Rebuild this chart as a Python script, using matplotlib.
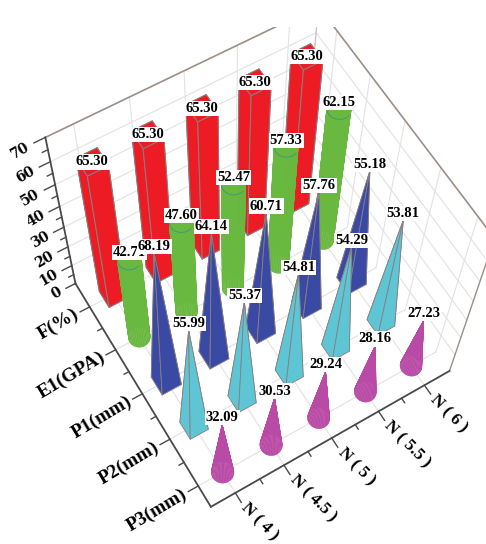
import numpy as np
import matplotlib
matplotlib.use("Agg")
import matplotlib.pyplot as plt
from mpl_toolkits.mplot3d import proj3d
from mpl_toolkits.mplot3d.art3d import Poly3DCollection

N_LABELS = ["N ( 4 )", "N ( 4.5 )", "N ( 5 )", "N ( 5.5 )", "N ( 6 )"]
ROW_LABELS = ["P3(mm)", "P2(mm)", "P1(mm)", "E1(GPA)", "F(%)"]
Z_TICKS = [0, 10, 20, 30, 40, 50, 60, 70]

F = [65.30, 65.30, 65.30, 65.30, 65.30]
E1 = [42.71, 47.60, 52.47, 57.33, 62.15]
P1 = [68.19, 64.14, 60.71, 57.76, 55.18]
P2 = [55.99, 55.37, 54.81, 54.29, 53.81]
P3 = [32.09, 30.53, 29.24, 28.16, 27.23]

XMIN, XMAX = 0.504, 5.554
YMIN, YMAX = 0.563, 5.56
ZMAX = 70

RED = "#ed1c24"
GREEN = "#69b83f"
BLUE = "#3a4aa4"
CYAN = "#5ec5d5"
MAGENTA = "#b94aa6"
EDGE = "#8a7f7f"
GRID = "#e2e2e2"
DARK = "#4a4a4a"
FRAME = "#9b8f88"
SERIF = "Liberation Serif"

fig = plt.figure(figsize=(4.86, 5.44), dpi=100)
ax = fig.add_axes([13.632 / 486, 31.141 / 544, 1, 486 / 544], projection="3d",
                  computed_zorder=False)
ax.set_xlim(XMIN, XMAX)
ax.set_ylim(YMIN, YMAX)
ax.set_zlim(0, ZMAX)
ax.autoscale(False)
ax.view_init(elev=62.688, azim=-123.49, roll=-2.685)
ax.set_box_aspect((1, 1, 1.015), zoom=1.034)
ax.set_proj_type("persp", focal_length=0.56)
ax.set_axis_off()


def seg(a, b, color, lw, z=1):
    ax.plot([a[0], b[0]], [a[1], b[1]], [a[2], b[2]], color=color, lw=lw, zorder=z)


def put_text(x, y, z, s, **kw):
    # Text3D overwrites rotation, so project and use plain text
    u, v, _ = proj3d.proj_transform(x, y, z, ax.get_proj())
    return ax.text2D(u, v, s, transform=ax.transData, fontweight="bold",
                     rotation_mode="anchor", **kw)


# grid on floor and the two back walls
for x in range(1, 6):
    seg((x, YMIN, 0), (x, YMAX, 0), GRID, 0.8)
    seg((x, YMAX, 0), (x, YMAX, ZMAX), GRID, 0.8)
for y in range(1, 6):
    seg((XMIN, y, 0), (XMAX, y, 0), GRID, 0.8)
    seg((XMAX, y, 0), (XMAX, y, ZMAX), GRID, 0.8)
for z in Z_TICKS[1:-1]:
    seg((XMIN, YMAX, z), (XMAX, YMAX, z), GRID, 0.8)
    seg((XMAX, YMIN, z), (XMAX, YMAX, z), GRID, 0.8)

# frame
seg((XMIN, YMAX, ZMAX), (XMAX, YMAX, ZMAX), FRAME, 1.2, 2)
seg((XMAX, YMAX, ZMAX), (XMAX, YMIN, ZMAX), FRAME, 1.2, 2)
seg((XMAX, YMAX, 0), (XMAX, YMAX, ZMAX), "#c8c4c0", 1.0, 2)
seg((XMAX, YMIN, 0), (XMAX, YMIN, ZMAX), FRAME, 1.0, 2)
seg((XMIN, YMAX, 0), (XMIN, YMAX, ZMAX), DARK, 1.3, 2)
seg((XMIN, YMIN, 0), (XMAX, YMIN, 0), DARK, 1.3, 2)
seg((XMIN, YMIN, 0), (XMIN, YMAX, 0), DARK, 1.3, 2)

# ticks
for z in range(0, ZMAX + 1, 5):
    seg((XMIN, YMAX, z), (XMIN - (0.2 if z % 10 == 0 else 0.1), YMAX, z), DARK, 1.0, 2)
for i in range(9):
    v = 1 + i / 2
    tick = 0.2 if i % 2 == 0 else 0.1
    seg((v, YMIN, 0), (v, YMIN - tick, 0), DARK, 1.0, 2)
    seg((XMIN, v, 0), (XMIN - tick, v, 0), DARK, 1.0, 2)

# axis text
for z in Z_TICKS:
    put_text(XMIN - 0.3, YMAX, z, str(z), fontsize=10, family="DejaVu Serif",
             rotation=30, ha="right", va="center", zorder=3)
for y, label in zip(range(1, 6), ROW_LABELS):
    put_text(XMIN - 0.25, y, 0, label, fontsize=14, family=SERIF,
             rotation=31, ha="right", va="center", zorder=3)
for x, label in zip(range(1, 6), N_LABELS):
    put_text(x, YMIN - 0.27, 0, label, fontsize=12.5, family=SERIF,
             rotation=-45, ha="left", va="center", zorder=3)


def draw_bar(x, y, h, z):
    w = 0.38
    c = ax.bar3d(x - w / 2, y - w / 2, 0, w, w, h, color=RED, shade=False,
                 edgecolor=EDGE, linewidth=0.7)
    c.set_zorder(z)


def draw_cylinder(x, y, h, z):
    r = 0.2
    t = np.linspace(0, 2 * np.pi, 41)
    X = x + r * np.outer(np.cos(t), [1, 1, 0])
    Y = y + r * np.outer(np.sin(t), [1, 1, 0])
    Z = np.outer(np.ones_like(t), [0, h, h])
    ax.plot_surface(X, Y, Z, color=GREEN, shade=False, edgecolor=GREEN, linewidth=0.3,
                    rstride=1, cstride=1, zorder=z)
    arc = np.radians(np.linspace(160, 290, 20))
    ax.plot(x + r * np.cos(arc), y + r * np.sin(arc), np.full(20, h), color="#3f9a7f",
            lw=0.7, zorder=z + 0.1)


def draw_pyramid(x, y, h, w, color, z):
    d = w / 2
    base = [(x - d, y - d, 0), (x + d, y - d, 0), (x + d, y + d, 0), (x - d, y + d, 0)]
    tip = (x, y, h)
    faces = [[base[i], base[(i + 1) % 4], tip] for i in range(4)]
    c = Poly3DCollection(faces, facecolor=color, edgecolor=EDGE, linewidth=0.6)
    ax.add_collection3d(c, autolim=False)
    c.set_zorder(z)


def draw_cone(x, y, h, z):
    r = 0.2
    t = np.linspace(0, 2 * np.pi, 41)
    X = x + r * np.outer(np.cos(t), [1, 0])
    Y = y + r * np.outer(np.sin(t), [1, 0])
    Z = np.outer(np.ones_like(t), [0, h])
    ax.plot_surface(X, Y, Z, color=MAGENTA, shade=False, edgecolor=MAGENTA, linewidth=0.3,
                    rstride=1, cstride=1, zorder=z)


series = [
    (5, F, draw_bar),
    (4, E1, draw_cylinder),
    (3, P1, lambda x, y, h, z: draw_pyramid(x, y, h, 0.4, BLUE, z)),
    (2, P2, lambda x, y, h, z: draw_pyramid(x, y, h, 0.37, CYAN, z)),
    (1, P3, draw_cone),
]

# painter's order, far marks first
marks = []
for y, values, fn in series:
    for i, h in enumerate(values):
        marks.append((0.55 * (i + 1) + 0.83 * y, i + 1, y, h, fn))
marks.sort(key=lambda m: -m[0])
for k, (_, x, y, h, fn) in enumerate(marks):
    fn(x, y, h, 10 + k)

# value labels on top
for k, (y, values, fn) in enumerate(series):
    for i, h in enumerate(values):
        put_text(i + 1, y, h, f"{h:.2f}", fontsize=10.5, family=SERIF, ha="center",
                 va="center" if y == 5 else "bottom", zorder=100 + k,
                 bbox=dict(facecolor="white", edgecolor="none", pad=0.8))

ax.set_xlim(XMIN, XMAX)
ax.set_ylim(YMIN, YMAX)
ax.set_zlim(0, ZMAX)
fig.savefig("out.png", dpi=100)
